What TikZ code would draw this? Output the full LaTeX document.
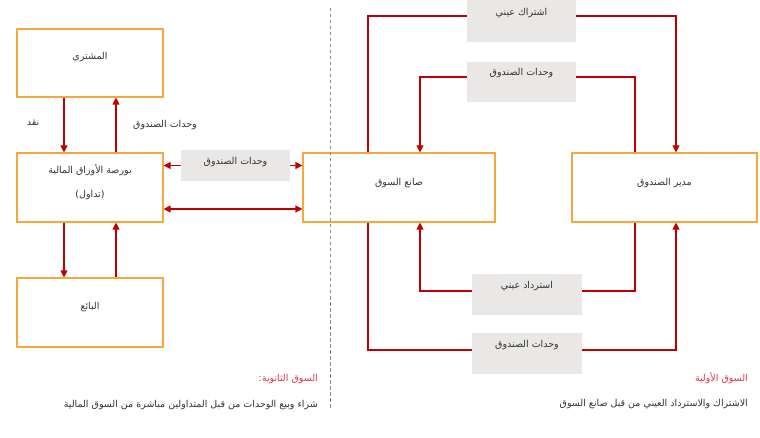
\documentclass[tikz,border=0pt]{standalone}
\usepackage{fontspec}
\usetikzlibrary{arrows.meta,calc}
\TeXXeTstate=1
\newfontfamily\arabicfont[Script=Arabic]{DejaVu Sans}
\definecolor{boxorange}{HTML}{F6A93B}
\definecolor{arrred}{HTML}{C00000}
\definecolor{grayfill}{HTML}{E9E8E6}
\definecolor{txt}{HTML}{333333}
\definecolor{titlered}{HTML}{D8384F}
\definecolor{dashgray}{HTML}{8C8C8C}
\tikzset{
  actor/.style={draw=boxorange, line width=1.2pt, fill=white, inner sep=0pt},
  graybox/.style={fill=grayfill, draw=none, inner sep=0pt, minimum width=109pt},
  lbl/.style={font=\arabicfont\fontsize{9.5}{11}\selectfont, text=txt, inner sep=0pt},
  ttl/.style={font=\arabicfont\fontsize{9.5}{11}\selectfont, text=titlered, inner sep=0pt, anchor=east},
  flow/.style={draw=arrred, line width=1.2pt},
  arr/.style={flow, -{Triangle[length=7pt,width=7pt]}},
  arrtwo/.style={flow, {Triangle[length=7pt,width=7pt]}-{Triangle[length=7pt,width=7pt]}},
}
\newcommand{\ar}[1]{\beginR #1\endR}
\begin{document}
\begin{tikzpicture}[x=1pt,y=-1pt]
\useasboundingbox[fill=white] (0,0) rectangle (760,438);

% left side actors
\node[actor, minimum width=146pt, minimum height=68pt] (buyer) at (90,63) {};
\node[lbl] (buyerT) at (90,57) {\ar{المشتري}};
\node[actor, minimum width=146pt, minimum height=69pt] (exch) at (90,187.5) {};
\node[lbl] (exchT1) at (90,170) {\ar{بورصة الأوراق المالية}};
\node[lbl] (exchT2) at (90,195) {\ar{(تداول)}};
\node[actor, minimum width=146pt, minimum height=69pt] (seller) at (90,312.5) {};
\node[lbl] (sellerT) at (90,307) {\ar{البائع}};

% right side actors
\node[actor, minimum width=192pt, minimum height=69pt] (mm) at (399,187.5) {};
\node[lbl] (mmT) at (399,183) {\ar{صانع السوق}};
\node[actor, minimum width=185pt, minimum height=69pt] (fm) at (664.5,187.5) {};
\node[lbl] (fmT) at (664.5,183) {\ar{مدير الصندوق}};

% gray label boxes
\node[graybox, minimum height=31pt] (g1) at (235.5,165.5) {};
\node[lbl] (g1T) at (235.5,162) {\ar{وحدات الصندوق}};
\node[graybox, minimum height=42pt] (g2) at (521.5,21) {};
\node[lbl] (g2T) at (521.5,13) {\ar{اشتراك عيني}};
\node[graybox, minimum height=40pt] (g3) at (521.5,82) {};
\node[lbl] (g3T) at (521.5,73) {\ar{وحدات الصندوق}};
\node[graybox, minimum height=41pt, minimum width=110pt] (g4) at (527,294.5) {};
\node[lbl] (g4T) at (527,286) {\ar{استرداد عيني}};
\node[graybox, minimum height=41pt, minimum width=110pt] (g5) at (527,353.5) {};
\node[lbl] (g5T) at (527,345) {\ar{وحدات الصندوق}};

% left connectors
\draw[arr] ([xshift=-26pt]buyer.south) -- ([xshift=-26pt]exch.north);
\draw[arr] ([xshift=26pt]exch.north) -- ([xshift=26pt]buyer.south);
\draw[arr] ([xshift=-26pt]exch.south) -- ([xshift=-26pt]seller.north);
\draw[arr] ([xshift=26pt]seller.north) -- ([xshift=26pt]exch.south);
\node[lbl] (cash) at (33,123) {\ar{نقد}};
\node[lbl] (units) at (165,125) {\ar{وحدات الصندوق}};

% exchange <-> market maker
\draw[arr] (g1.west) -- (exch.east |- g1.west);
\draw[arr] (g1.east) -- (mm.west |- g1.east);
\draw[arrtwo] ($(exch.east)+(0,21.5)$) -- ($(mm.west)+(0,21.5)$);

% primary market flows
\draw[flow] ($(mm.north)+(-31,0)$) |- ($(g2.west)+(0,-5)$);
\draw[arr] ($(g2.east)+(0,-5)$) -| ($(fm.north)+(11.5,0)$);
\draw[flow] ($(fm.north)+(-29.5,0)$) |- ($(g3.east)+(0,-5)$);
\draw[arr] ($(g3.west)+(0,-5)$) -| ($(mm.north)+(21,0)$);
\draw[flow] ($(fm.south)+(-29.5,0)$) |- ($(g4.east)+(0,-3.5)$);
\draw[arr] ($(g4.west)+(0,-3.5)$) -| ($(mm.south)+(21,0)$);
\draw[flow] ($(mm.south)+(-31,0)$) |- ($(g5.west)+(0,-3.5)$);
\draw[arr] ($(g5.east)+(0,-3.5)$) -| ($(fm.south)+(11.5,0)$);

% divider
\coordinate (dtop) at (330,8);
\coordinate (dbot) at (330,410);
\draw[dashgray, line width=1pt, dash pattern=on 3.5pt off 2.5pt] (dtop) -- (dbot);

% captions
\node[ttl] (secT) at (318,379) {\ar{السوق الثانوية:}};
\node[lbl, anchor=east] (secD) at (318,405) {\ar{شراء وبيع الوحدات من قبل المتداولين مباشرة من السوق المالية}};
\node[ttl] (priT) at (748,378) {\ar{السوق الأولية}};
\node[lbl, anchor=east] (priD) at (748,404) {\ar{الاشتراك والاسترداد العيني من قبل صانع السوق}};
\end{tikzpicture}
\end{document}
